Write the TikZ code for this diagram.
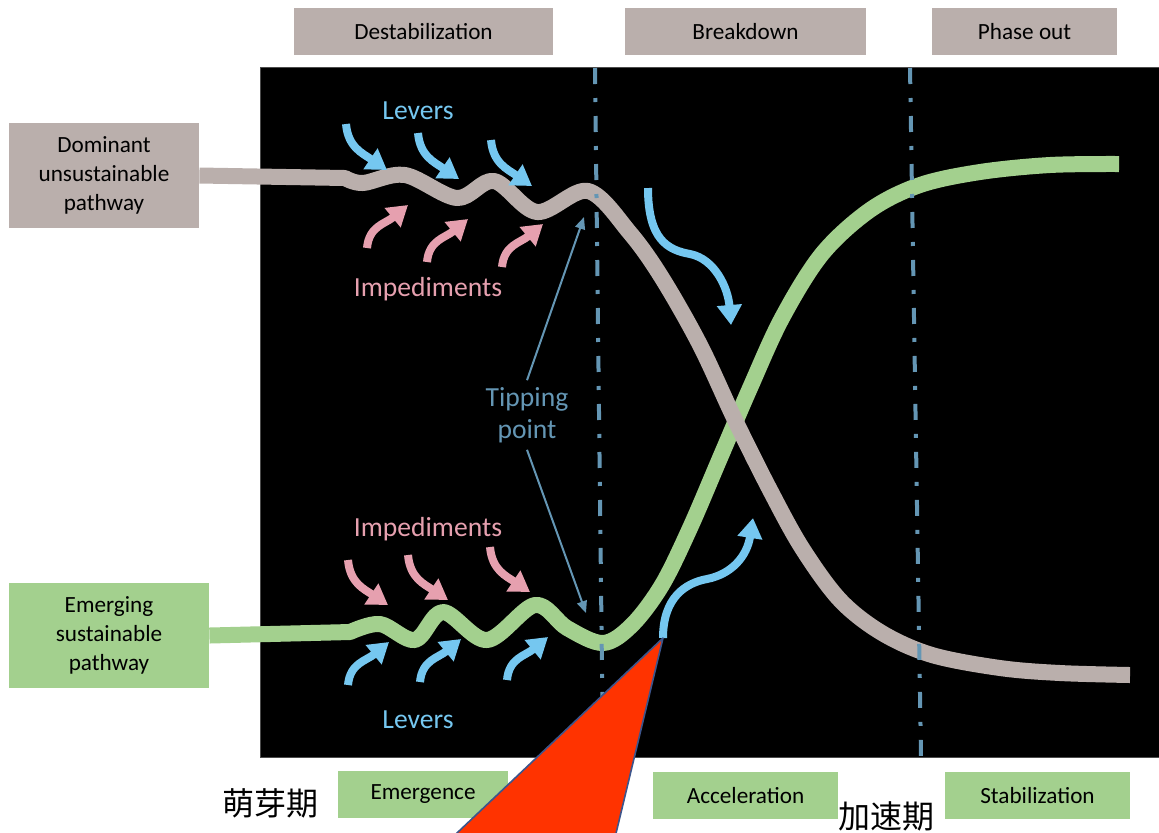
\documentclass[tikz,border=0pt]{standalone}
\usepackage{fontspec}
\setmainfont{Carlito}
\newfontfamily\cjk{Noto Sans CJK SC}
\usetikzlibrary{arrows.meta,positioning}

\definecolor{boxgray}{RGB}{186,175,172}
\definecolor{boxgreen}{RGB}{163,208,142}
\definecolor{leverblue}{RGB}{117,199,240}
\definecolor{impedpink}{RGB}{230,160,175}
\definecolor{tipblue}{RGB}{100,150,180}
\definecolor{alarmred}{RGB}{255,51,0}
\definecolor{edgeblue}{RGB}{60,85,140}

\tikzset{
  stage/.style={inner sep=0pt, minimum height=23.5pt, font=\fontsize{11.6}{14}\selectfont},
  pathbox/.style={inner sep=0pt, minimum height=52.5pt, align=center, font=\fontsize{11.6}{14.5}\selectfont},
  bigword/.style={font=\fontsize{13.8}{16}\selectfont},
  pathline/.style={line width=8pt, line join=round},
  nudge/.style={line width=4pt, -{Triangle[length=10pt,width=12pt]}},
  phase/.style={tipblue, line width=2pt, dash pattern=on 8pt off 7pt on 2pt off 7pt}
}

\begin{document}
\begin{tikzpicture}[x=0.5pt,y=-0.5pt]
\useasboundingbox (0,0) rectangle (1159,832);

% stage
\fill[black] (260,67) rectangle (1159,757);
\draw[gray!60!black, line width=0.5pt] (1159,67) -- (260,67) -- (260,757) -- (1159,757);

% labels outside
\node[stage, fill=boxgray, minimum width=129.5pt] (destab) at (423.5,31.5) {Destabilization};
\node[stage, fill=boxgray, minimum width=120.5pt] (brkdn) at (745.5,31.5) {Breakdown};
\node[stage, fill=boxgray, minimum width=92.5pt] (phout) at (1024.5,31.5) {Phase out};

\node[pathbox, fill=boxgray, minimum width=95pt] (dom) at (104,175.5) {Dominant\\unsustainable\\pathway};
\node[pathbox, fill=boxgreen, minimum width=100pt] (emg) at (109,635.5) {Emerging\\sustainable\\pathway};

\node[stage, fill=boxgreen, minimum width=85pt] (emerg) at (423,794.5) {Emergence};
\node[stage, fill=boxgreen, minimum width=92.5pt] (accel) at (745.5,795.5) {Acceleration};
\node[stage, fill=boxgreen, minimum width=92.5pt] (stab) at (1037.5,795.5) {Stabilization};

\node[font=\cjk\fontsize{16}{18}\selectfont] (mengya) at (270,803) {萌芽期};
\node[font=\cjk\fontsize{16}{18}\selectfont] (jiasu) at (886,816) {加速期};

% the two pathways
\draw[pathline, boxgreen] (emg.east) -- (350,632)
  -- plot[smooth, tension=0.55] coordinates {(350,632) (380,624) (415,640) (443,612) (487,640) (535,605) (567,628) (603,643) (632,625) (662,585) (690,528) (720,458) (750,388) (782,318) (822,254) (870,210) (920,185) (980,172) (1050,165) (1119,164)};
\draw[pathline, boxgray] (dom.east) -- (345,178)
  -- plot[smooth, tension=0.55] coordinates {(345,178) (363,183) (405,175) (457,198) (494,181) (537,212) (588,191) (630,233) (662,278) (700,345) (735,420) (770,490) (802,548) (840,600) (882,633) (932,655) (1000,668) (1060,673) (1130,675)};

% phase borders
\draw[phase] (595,68) -- (603,757);
\draw[phase] (910,68) -- (921,757);

% levers and impediments
\node[bigword, leverblue] (levtop) at (418,111) {Levers};
\node[bigword, impedpink] (imptop) at (428,289) {Impediments};
\node[bigword, impedpink] (impbot) at (428,529) {Impediments};
\node[bigword, leverblue] (levbot) at (418,720) {Levers};

\foreach \dx/\dy in {0/0, 72/9, 145/16}
  \draw[nudge, leverblue, shift={(\dx,\dy)}] (346,124) .. controls (348,147) and (362,153) .. (387,170);
\foreach \dx/\dy in {0/0, 60/14, 135/19}
  \draw[nudge, impedpink, shift={(\dx,\dy)}] (367,248) .. controls (369,226) and (385,224) .. (408,205);
\foreach \dx/\dy in {0/0, 60/-5, 142/-13}
  \draw[nudge, impedpink, shift={(\dx,\dy)}] (348,560) .. controls (350,583) and (364,589) .. (388,605);
\foreach \dx/\dy in {0/0, 72/-3, 159/-5}
  \draw[nudge, leverblue, shift={(\dx,\dy)}] (348,685) .. controls (350,663) and (366,661) .. (389,642);

\draw[nudge, leverblue] (648,188) .. controls (648,240) and (668,250) .. (690,254)
  .. controls (715,259) and (728,288) .. (731,325);
\coordinate (acctail) at (663,638);
\draw[nudge, leverblue] (acctail) .. controls (663,598) and (685,583) .. (707,579)
  .. controls (732,574) and (747,556) .. (753,518);

% tipping point
\node[bigword, tipblue, align=center] (tp) at (527,415) {Tipping\\point};
\coordinate (tipup) at (584,217);
\coordinate (tipdn) at (586,613);
\draw[tipblue, line width=1pt, -{Triangle[length=6pt,width=5pt]}] (tp.north) -- (tipup);
\draw[tipblue, line width=1pt, -{Triangle[length=6pt,width=5pt]}] (tp.south) -- (tipdn);

% marker
\filldraw[fill=alarmred, draw=edgeblue, line width=0.8pt, line join=round] (acctail) -- (439,850) -- (612,850) -- cycle;
\end{tikzpicture}
\end{document}
